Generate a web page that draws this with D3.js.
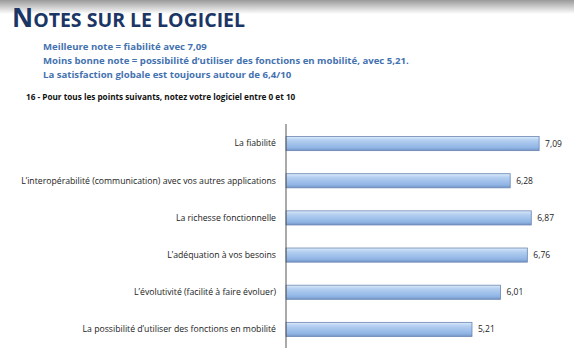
<!DOCTYPE html>
<html>
<head>
<meta charset="utf-8">
<script src="https://cdn.jsdelivr.net/npm/d3@7"></script>
<style>
  body { margin: 0; background: #fff; }
  svg { display: block; font-family: "Open Sans", "Liberation Sans", sans-serif; }
</style>
</head>
<body>
<svg width="574" height="357"></svg>
<script>
var categories = [
  "La fiabilité",
  "L’interopérabilité (communication) avec vos autres applications",
  "La richesse fonctionnelle",
  "L’adéquation à vos besoins",
  "L’évolutivité (facilité à faire évoluer)",
  "La possibilité d’utiliser des fonctions en mobilité"
];
var values = [7.09, 6.28, 6.87, 6.76, 6.01, 5.21];
var notes = [
  "Meilleure note = fiabilité avec 7,09",
  "Moins bonne note = possibilité d’utiliser des fonctions en mobilité, avec 5,21.",
  "La satisfaction globale est toujours autour de 6,4/10"
];
var question = "16 - Pour tous les points suivants, notez votre logiciel entre 0 et 10";

var width = 574;
var height = 357;
var margin = {left: 286, right: 0, top: 125, bottom: 9};

var svg = d3.select('svg');
var defs = svg.append('defs');

var topGrad = defs.append('linearGradient')
  .attr('id', 'topfade').attr('x1', 0).attr('y1', 0).attr('x2', 0).attr('y2', 1);
topGrad.append('stop').attr('offset', '0%').attr('stop-color', '#9a9a9a');
topGrad.append('stop').attr('offset', '100%').attr('stop-color', '#ffffff');

var barGrad = defs.append('linearGradient')
  .attr('id', 'bargrad').attr('x1', 0).attr('y1', 0).attr('x2', 0).attr('y2', 1);
barGrad.append('stop').attr('offset', '0%').attr('stop-color', '#dcebfa');
barGrad.append('stop').attr('offset', '25%').attr('stop-color', '#b5d0f1');
barGrad.append('stop').attr('offset', '80%').attr('stop-color', '#8fb4e4');
barGrad.append('stop').attr('offset', '100%').attr('stop-color', '#7393c4');

// grey fade at the top of the slide
svg.append('rect')
  .attr('x', 0).attr('y', 0)
  .attr('width', width).attr('height', 14)
  .attr('fill', 'url(#topfade)');

// title in small caps
var title = svg.append('text')
  .attr('x', 12).attr('y', 27)
  .attr('fill', '#1b3564')
  .style('font-weight', 'bold')
  .style('font-family', '"Open Sans", sans-serif');
title.append('tspan').style('font-size', '26px').text('N');
title.append('tspan').style('font-size', '19.5px').text('OTES SUR LE LOGICIEL');

svg.selectAll('text.note')
  .data(notes)
  .enter()
  .append('text')
  .attr('class', 'note')
  .attr('x', 43)
  .attr('y', function (d, i) { return 50 + i * 13.8; })
  .attr('fill', '#4472b0')
  .style('font-size', '9.6px')
  .style('font-weight', 'bold')
  .text(function (d) { return d; });

svg.append('text')
  .attr('x', 26).attr('y', 100)
  .attr('fill', '#111')
  .style('font-size', '8.2px')
  .style('font-weight', 'bold')
  .text(question);

var x = d3.scaleLinear().domain([0, 10]).range([margin.left, margin.left + 357]);
var y = d3.scaleBand().domain(categories)
  .range([margin.top, height - margin.bottom])
  .paddingInner(0.62).paddingOuter(0.31);

svg.selectAll('rect.bar')
  .data(values)
  .enter()
  .append('rect')
  .attr('class', 'bar')
  .attr('x', x(0))
  .attr('y', function (d, i) { return y(categories[i]); })
  .attr('width', function (d) { return x(d) - x(0); })
  .attr('height', y.bandwidth())
  .attr('fill', 'url(#bargrad)')
  .attr('stroke', '#6a86b3')
  .attr('stroke-width', 0.8);

svg.selectAll('text.val')
  .data(values)
  .enter()
  .append('text')
  .attr('class', 'val')
  .attr('x', function (d) { return x(d) + 6; })
  .attr('y', function (d, i) { return y(categories[i]) + y.bandwidth() / 2; })
  .attr('dy', '0.35em')
  .attr('fill', '#222')
  .style('font-size', '8.5px')
  .text(function (d) { return d3.format('.2f')(d).replace('.', ','); });

var axisLeft = d3.axisLeft(y).tickSize(0).tickPadding(10);
var gAxis = svg.append('g')
  .attr('transform', 'translate(' + margin.left + ',0)')
  .call(axisLeft);
gAxis.select('.domain').attr('stroke', '#555').attr('d', 'M0,' + (margin.top - 1) + 'V' + (height - margin.bottom));
gAxis.selectAll('text')
  .attr('fill', '#222')
  .style('font-size', '8.7px')
  .style('font-family', '"Open Sans", sans-serif');
</script>
</body>
</html>
